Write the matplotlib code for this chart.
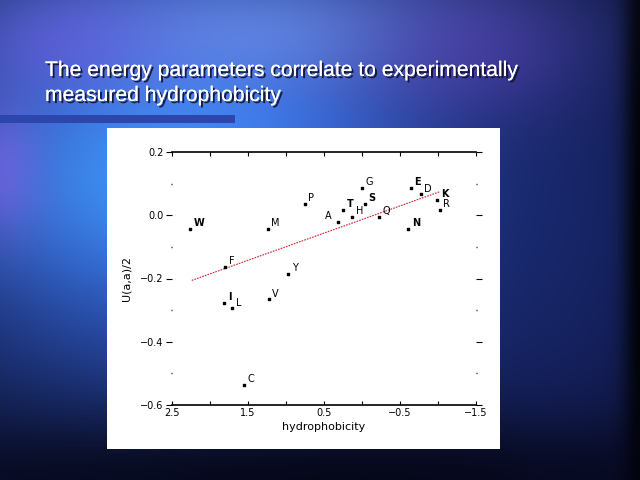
import numpy as np
import matplotlib
matplotlib.use('Agg')
import matplotlib.pyplot as plt
import matplotlib.patheffects as pe
from matplotlib.patches import Rectangle
from matplotlib.ticker import MultipleLocator

# amino acid points
residues = ['W', 'M', 'F', 'Y', 'P', 'T', 'A', 'H', 'G', 'S', 'Q', 'N', 'E', 'D', 'K', 'R', 'I', 'L', 'V', 'C']
hydro = [2.26, 1.24, 1.80, 0.97, 0.75, 0.25, 0.31, 0.13, 0.00, -0.04, -0.22, -0.61, -0.64, -0.77, -0.99, -1.02, 1.81, 1.71, 1.23, 1.55]
energy = [-0.042, -0.042, -0.163, -0.185, 0.037, 0.016, -0.021, -0.004, 0.086, 0.036, -0.004, -0.044, 0.086, 0.066, 0.048, 0.016, -0.277, -0.294, -0.266, -0.537]
bold_res = ['W', 'T', 'S', 'N', 'E', 'K', 'I']
fit_x = [2.24, -1.03]
fit_y = [-0.206, 0.075]

x_ticks = [2.5, 1.5, 0.5, -0.5, -1.5]
y_ticks = [0.2, 0.0, -0.2, -0.4, -0.6]
y_ticklabels = ['0.2', '0.0', '\u22120.2', '\u22120.4', '\u22120.6']

W, H = 640, 480
fig = plt.figure(figsize=(6.4, 4.8), dpi=100)

# slide background
yy, xx = np.mgrid[0:H, 0:W].astype(float)
img = np.zeros((H, W, 3))
img[:] = np.array([10, 12, 42]) / 255.0

def blob(cx, cy, sx, sy, col, amt):
    global img
    w = amt * np.exp(-(((xx - cx) / sx) ** 2 + ((yy - cy) / sy) ** 2) / 2)
    img = img * (1 - w[..., None]) + np.array(col)[None, None, :] / 255.0 * w[..., None]

blob(200, 170, 220, 170, (60, 115, 250), 0.95)
blob(150, 175, 110, 70, (70, 180, 255), 0.5)
blob(260, 30, 170, 45, (130, 165, 255), 0.55)
blob(60, 40, 70, 40, (110, 90, 230), 0.5)
blob(0, 170, 30, 50, (150, 100, 240), 0.5)
blob(560, 260, 90, 200, (25, 40, 115), 0.6)
blob(470, 50, 80, 50, (90, 60, 180), 0.5)
blob(640, 240, 12, 400, (0, 0, 0), 0.9)
blob(320, 480, 400, 45, (3, 3, 14), 0.8)
img = np.clip(img, 0, 1)

bg = fig.add_axes([0, 0, 1, 1])
bg.imshow(img, extent=[0, W, H, 0], aspect='auto')
bg.set_xlim(0, W)
bg.set_ylim(H, 0)
bg.axis('off')

# title bar and white panel
bg.add_patch(Rectangle((0, 115), 235, 8, color='#2c46ab', lw=0))
bg.add_patch(Rectangle((107, 128), 393, 321, color='white', lw=0))

shadow = [pe.withSimplePatchShadow(offset=(1.5, -1.5), shadow_rgbFace='#101030', alpha=0.9), pe.Normal()]
bg.text(45, 76, 'The energy parameters correlate to experimentally', color='white',
        fontsize=15.2, family='Liberation Sans', path_effects=shadow)
bg.text(45, 101, 'measured hydrophobicity', color='white',
        fontsize=15.2, family='Liberation Sans', path_effects=shadow)

# the scatter plot
ax = fig.add_axes([172 / W, 1 - 405 / H, 304 / W, 253 / H])
ax.set_facecolor('white')
ax.scatter(hydro, energy, s=3.5, marker='s', color='black', zorder=3)
ax.plot(fit_x, fit_y, color='#d02030', lw=0.8, ls=(0, (1.5, 1)), zorder=2)
for r, hx, ey in zip(residues, hydro, energy):
    wt = 'bold' if r in bold_res else 'normal'
    if r == 'A':
        ax.annotate(r, (hx, ey), xytext=(-5, 1), textcoords='offset points', ha='right',
                    va='bottom', fontsize=7, fontweight=wt)
    else:
        ax.annotate(r, (hx, ey), xytext=(2.5, 0.5), textcoords='offset points', ha='left',
                    va='bottom', fontsize=7, fontweight=wt)

ax.set_xlim(2.5, -1.5)
ax.set_ylim(-0.6, 0.2)
for s in ['left', 'right']:
    ax.spines[s].set_visible(False)
ax.spines['top'].set_linewidth(1.2)
ax.spines['bottom'].set_linewidth(1.2)
ax.set_xticks(x_ticks)
ax.set_xticklabels([str(v) if v >= 0 else '\u2212' + str(-v) for v in x_ticks])
ax.xaxis.set_minor_locator(MultipleLocator(0.5))
ax.set_yticks(y_ticks)
ax.set_yticklabels(y_ticklabels)
ax.yaxis.set_minor_locator(MultipleLocator(0.1))
ax.tick_params(axis='x', which='both', direction='in', top=True, length=3, width=0.8,
               labelsize=7, pad=2)
ax.tick_params(axis='y', which='major', direction='out', right=True, length=4, width=0.8,
               labelsize=7, pad=2)
ax.tick_params(axis='y', which='minor', direction='out', right=True, length=1, width=1)
ax.set_xlabel('hydrophobicity', fontsize=8, labelpad=3)
ax.set_ylabel('U(a,a)/2', fontsize=8, labelpad=6)

fig.savefig('out.png', dpi=100)
